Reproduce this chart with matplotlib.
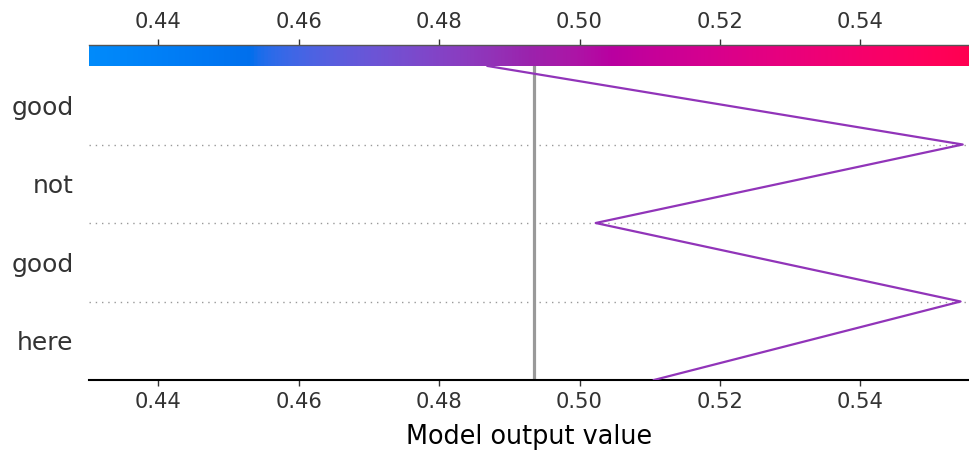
from matplotlib import pyplot as plt
from matplotlib.colors import LinearSegmentedColormap
import numpy as np

features = ["here", "good", "not", "good"]      # bottom to top
path_values = [0.5106, 0.5543, 0.5023, 0.5546, 0.4869]
base_value = 0.4935
xlim = (0.4301, 0.5555)
xticks = [0.44, 0.46, 0.48, 0.50, 0.52, 0.54]


def lch2rgb(l, c, h):
    # LCh -> Lab -> XYZ (D65) -> sRGB
    a, b = c * np.cos(h), c * np.sin(h)
    fy = (l + 16) / 116
    f = np.array([fy + a / 500, fy, fy - b / 200])
    f = np.where(f > 6 / 29, f ** 3, 3 * (6 / 29) ** 2 * (f - 4 / 29))
    xyz = f * np.array([0.95047, 1.0, 1.08883])
    m = np.array([[3.2406, -1.5372, -0.4986],
                  [-0.9689, 1.8758, 0.0415],
                  [0.0557, -0.2040, 1.0570]])
    rgb = m @ xyz
    rgb = np.where(rgb > 0.0031308, 1.055 * np.abs(rgb) ** (1 / 2.4) - 0.055, 12.92 * rgb)
    return np.clip(rgb, 0, 1)


# red/blue colour scale built the same way as shap's
n = 100
l_vals = list(np.linspace(54., 40., n // 2)) + list(np.linspace(40., 54., n // 2))
c_vals = np.linspace(70., 90., n)
h_vals = np.linspace(4.6588, 0.35470565 + 2 * np.pi, n)
cols = [lch2rgb(l, c, h) for l, c, h in zip(l_vals, c_vals, h_vals)]
cmap = LinearSegmentedColormap.from_list("red_blue", cols)

fig = plt.figure(figsize=(9.7, 4.53), dpi=100)
ax = fig.add_axes([89 / 970, 73 / 453, 880 / 970, 314 / 453])

y_pos = np.arange(len(path_values))
for y in y_pos[1:-1]:
    ax.axhline(y, color="#999999", lw=1, ls=(0, (1, 3.5)), zorder=1)
ax.axvline(base_value, color="#999999", lw=2.3, zorder=2)

norm_val = (path_values[-1] - xlim[0]) / (xlim[1] - xlim[0])
ax.plot(path_values, y_pos, color=cmap(norm_val), lw=1.6, zorder=3)

ax.set_xlim(xlim)
ax.set_ylim(0, len(features))
ax.set_yticks(np.arange(len(features)) + 0.5)
ax.set_yticklabels(features, fontsize=18, color="#333333")
ax.tick_params(axis="y", length=0, pad=11)
ax.set_xticks(xticks)
ax.set_xticklabels([f"{t:.2f}" for t in xticks], fontsize=15.2, color="#333333")
ax.tick_params(axis="x", length=4.5, width=1, color="#333333", pad=4)
for s in ["left", "right", "top"]:
    ax.spines[s].set_visible(False)
ax.spines["bottom"].set_linewidth(1.5)
ax.set_xlabel("Model output value", fontsize=18.4, labelpad=9)

# colour bar on top
cax = fig.add_axes([89 / 970, 387 / 453, 880 / 970, 21 / 453])
grad = np.linspace(0, 1, 512).reshape(1, -1)
cax.imshow(grad, aspect="auto", cmap=cmap, extent=[xlim[0], xlim[1], 0, 1])
cax.set_xlim(xlim)
cax.set_yticks([])
cax.xaxis.tick_top()
cax.set_xticks(xticks)
cax.set_xticklabels([f"{t:.2f}" for t in xticks], fontsize=15.2, color="#333333")
cax.tick_params(axis="x", length=4.5, width=1, color="#333333", pad=5)
for s in ["left", "right", "bottom"]:
    cax.spines[s].set_visible(False)
cax.spines["top"].set_color("#555555")
cax.spines["top"].set_linewidth(1)

fig.savefig("out.png", dpi=100)
